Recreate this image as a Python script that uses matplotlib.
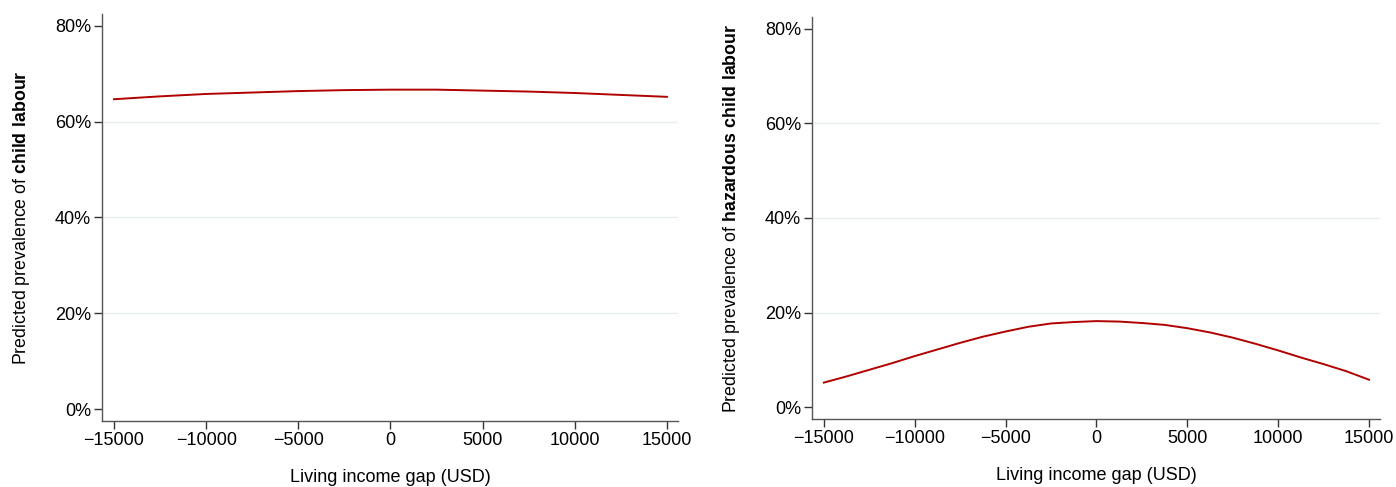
import matplotlib.pyplot as plt
import numpy as np

plt.rcParams['font.family'] = 'Liberation Sans'
plt.rcParams['mathtext.fontset'] = 'custom'
plt.rcParams['mathtext.rm'] = 'Liberation Sans'
plt.rcParams['mathtext.bf'] = 'Liberation Sans:bold'

gap_cl = [-15000, -12500, -10000, -7500, -5000, -2500, 0, 2500, 5000, 7500, 10000, 12500, 15000]
child_labour = [64.7, 65.3, 65.8, 66.1, 66.4, 66.6, 66.7, 66.7, 66.5, 66.3, 66.0, 65.6, 65.2]

gap_hz = [-15000, -13750, -12500, -11250, -10000, -8750, -7500, -6250, -5000, -3750, -2500, -1250,
          0, 1250, 2500, 3750, 5000, 6250, 7500, 8750, 10000, 11250, 12500, 13750, 15000]
hazardous = [5.2, 6.5, 7.9, 9.3, 10.8, 12.2, 13.6, 14.9, 16.0, 17.0, 17.7, 18.0,
             18.2, 18.1, 17.8, 17.4, 16.7, 15.8, 14.7, 13.4, 12.0, 10.5, 9.1, 7.6, 5.8]

x_ticks = [-15000, -10000, -5000, 0, 5000, 10000, 15000]
y_ticks = [0, 20, 40, 60, 80]

W, H = 1396, 487
fig = plt.figure(figsize=(W / 100, H / 100), dpi=100)
ax1 = fig.add_axes([102 / W, (H - 421) / H, (678 - 102) / W, (421 - 14) / H])
ax2 = fig.add_axes([812 / W, (H - 419) / H, (1380 - 812) / W, (419 - 17) / H])

panels = [(ax1, gap_cl, child_labour, 'child\\ labour'),
          (ax2, gap_hz, hazardous, 'hazardous\\ child\\ labour')]
for ax, xs, vals, what in panels:
    for g in [20, 40, 60]:
        ax.axhline(g, color='#e6eeef', lw=1, zorder=0)
    ax.plot(xs, vals, color='#b00000', lw=1.4)
    ax.set_xlim(-15650, 15600)
    ax.set_ylim(-2.5, 82.5)
    ax.set_xticks(x_ticks)
    ax.set_yticks(y_ticks)
    ax.set_yticklabels([f'{t}%' for t in y_ticks])
    ax.tick_params(labelsize=13, length=6, width=1, color='#333333', pad=2)
    for s in ['top', 'right']:
        ax.spines[s].set_visible(False)
    for s in ['left', 'bottom']:
        ax.spines[s].set_color('#555555')
        ax.spines[s].set_linewidth(1)
    ax.set_xlabel('Living income gap (USD)', fontsize=13, labelpad=14)
    ax.set_ylabel('Predicted prevalence of $\\bf{' + what + '}$', fontsize=12.8, labelpad=16)

fig.savefig('out.png', dpi=100)
